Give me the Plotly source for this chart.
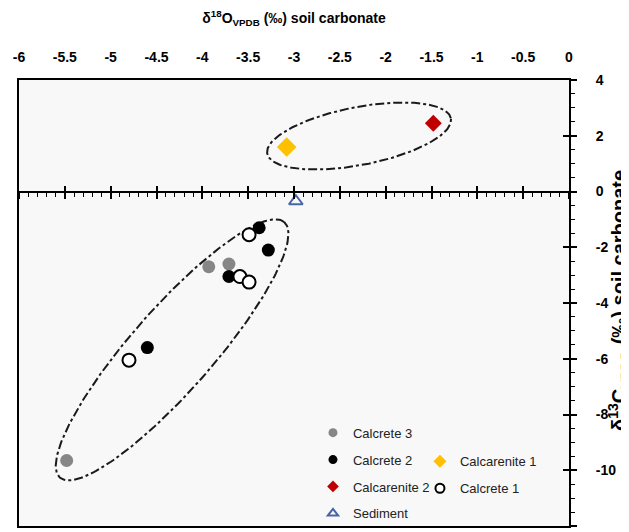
import numpy as np
import plotly.graph_objects as go

# ---------------- data ----------------
calcrete3_x = [-5.48, -3.93, -3.71]
calcrete3_y = [-9.65, -2.70, -2.60]

calcrete2_x = [-3.38, -3.28, -3.71, -4.60]
calcrete2_y = [-1.30, -2.10, -3.05, -5.60]

calcrete1_x = [-3.49, -3.59, -3.49, -4.80]
calcrete1_y = [-1.55, -3.05, -3.25, -6.05]

calcarenite1_x = [-3.08]
calcarenite1_y = [1.60]

calcarenite2_x = [-1.48]
calcarenite2_y = [2.45]

sediment_x = [-2.98]
sediment_y = [-0.35]

x_ticks = [-6, -5.5, -5, -4.5, -4, -3.5, -3, -2.5, -2, -1.5, -1, -0.5, 0]
y_ticks = [4, 2, 0, -2, -4, -6, -8, -10, -12]

# ellipse groupings: centre (data), semi-axes (screen px), tilt (deg)
ell_upper = dict(cx=-2.29, cy=1.99, a=93.5, b=29, ang=10.9)
ell_lower = dict(cx=-4.33, cy=-5.68, a=170, b=41, ang=48.7)

# ---------------- layout constants ----------------
# page body has an 8px default margin, so the figure is 621x524
W, H = 621, 524
ML, MR, MT, MB = 11, 60, 72, 6
PW, PH = W - ML - MR, H - MT - MB
XR, YR = [-6, 0], [-12, 4]
SX = PW / (XR[1] - XR[0])
SY = PH / (YR[1] - YR[0])


def ellipse(p, n=240):
    t = np.linspace(0, 2 * np.pi, n)
    th = np.radians(p["ang"])
    u = p["a"] * np.cos(t)
    v = p["b"] * np.sin(t)
    dx = u * np.cos(th) - v * np.sin(th)
    dy = u * np.sin(th) + v * np.cos(th)
    return p["cx"] + dx / SX, p["cy"] + dy / SY


fig = go.Figure()

for p in (ell_upper, ell_lower):
    ex, ey = ellipse(p)
    fig.add_trace(go.Scatter(x=ex, y=ey, mode="lines", showlegend=False, hoverinfo="skip",
                             line=dict(color="#1a1a1a", width=2, dash="dashdot")))

GREY, BLACK, YEL, RED, BLUE = "#868686", "#000000", "#FFC000", "#C00000", "#4A64A8"

fig.add_trace(go.Scatter(x=calcrete3_x, y=calcrete3_y, mode="markers", name="Calcrete 3", showlegend=False,
                         marker=dict(color=GREY, size=13, line=dict(width=0))))
fig.add_trace(go.Scatter(x=calcrete2_x, y=calcrete2_y, mode="markers", name="Calcrete 2", showlegend=False,
                         marker=dict(color=BLACK, size=13, line=dict(width=0))))
fig.add_trace(go.Scatter(x=calcrete1_x, y=calcrete1_y, mode="markers", name="Calcrete 1", showlegend=False,
                         marker=dict(color="white", size=13, line=dict(color=BLACK, width=2))))
fig.add_trace(go.Scatter(x=calcarenite1_x, y=calcarenite1_y, mode="markers", name="Calcarenite 1", showlegend=False,
                         marker=dict(color=YEL, size=15, symbol="diamond", line=dict(width=0))))
fig.add_trace(go.Scatter(x=calcarenite2_x, y=calcarenite2_y, mode="markers", name="Calcarenite 2", showlegend=False,
                         marker=dict(color=RED, size=13, symbol="diamond", line=dict(width=0))))
fig.add_trace(go.Scatter(x=sediment_x, y=sediment_y, mode="markers", name="Sediment", showlegend=False,
                         marker=dict(color="rgba(0,0,0,0)", size=12, symbol="triangle-up",
                                     line=dict(color=BLUE, width=2))))

# legend-only entries (smaller legend symbols)
leg1 = [("Calcrete 3", dict(color=GREY, size=9, symbol="circle")),
        ("Calcrete 2", dict(color=BLACK, size=9, symbol="circle")),
        ("Calcarenite 2", dict(color=RED, size=9, symbol="diamond")),
        ("Sediment", dict(color="rgba(0,0,0,0)", size=9, symbol="triangle-up", line=dict(color=BLUE, width=2)))]
leg2 = [("Calcarenite 1", dict(color=YEL, size=10, symbol="diamond")),
        ("Calcrete 1", dict(color="white", size=9, symbol="circle", line=dict(color=BLACK, width=2)))]
for i, (nm, mk) in enumerate(leg1):
    fig.add_trace(go.Scatter(x=[None], y=[None], mode="markers", name=nm, marker=mk,
                             legend="legend", legendgroup=f"a{i}"))
for i, (nm, mk) in enumerate(leg2):
    fig.add_trace(go.Scatter(x=[None], y=[None], mode="markers", name=nm, marker=mk,
                             legend="legend2", legendgroup=f"b{i}"))

FONT = "Liberation Sans, Arial, sans-serif"
tickfont = dict(family=FONT, size=14, color="black", weight="bold")
legfont = dict(family=FONT, size=13, color="#222222")

fig.update_layout(
    width=W, height=H,
    margin=dict(l=ML, r=MR, t=MT, b=MB, autoexpand=False),
    paper_bgcolor="white",
    plot_bgcolor="#f8f8f8",
    font=dict(family=FONT),
    title=dict(text="<b>δ<sup>18</sup>O<sub>VPDB</sub> (‰) soil carbonate</b>",
               font=dict(family=FONT, size=14, color="black"),
               x=0.5, xref="paper", xanchor="center",
               y=1 - 10 / H, yref="container", yanchor="middle"),
    xaxis=dict(range=XR, side="top", tickvals=x_ticks, ticktext=[f"{v:g}" for v in x_ticks],
               ticks="", ticklabelstandoff=10, tickfont=tickfont, automargin=False,
               showline=True, linecolor="black", linewidth=2, mirror=True,
               showgrid=False, zeroline=False, fixedrange=True),
    xaxis2=dict(range=XR, overlaying="x", anchor="free", position=0.75, side="bottom",
                dtick=0.5, tick0=0, ticks="outside", ticklen=6, tickwidth=2, tickcolor="black",
                minor=dict(dtick=0.1, tick0=0, ticks="outside", ticklen=4, tickwidth=1, tickcolor="black"),
                showticklabels=False, showline=True, linecolor="black", linewidth=2,
                showgrid=False, zeroline=False, automargin=False),
    xaxis3=dict(range=XR, overlaying="x", anchor="free", position=0.75, side="bottom",
                dtick=0.5, tick0=0, ticks="inside", ticklen=6, tickwidth=2, tickcolor="black",
                showticklabels=False, showline=False, showgrid=False, zeroline=False, automargin=False),
    yaxis=dict(range=YR, side="right", tickvals=y_ticks, ticktext=[f"{v:g}" for v in y_ticks],
               ticks="outside", ticklen=6, tickwidth=2, tickcolor="black",
               minor=dict(dtick=0.5, tick0=0, ticks="outside", ticklen=4, tickwidth=1, tickcolor="black"),
               tickfont=tickfont, ticklabelposition="outside", ticklabelstandoff=16, automargin=False,
               showline=True, linecolor="black", linewidth=2, mirror=True,
               showgrid=False, zeroline=False),
    yaxis2=dict(range=YR, overlaying="y", side="right", anchor="x",
                tickvals=y_ticks, ticks="inside", ticklen=6, tickwidth=2, tickcolor="black",
                showticklabels=False, showline=False, showgrid=False, zeroline=False, automargin=False),
    legend=dict(x=0.5345, y=0.2428, xanchor="left", yanchor="top", orientation="v",
                bgcolor="rgba(0,0,0,0)", font=legfont, tracegroupgap=7, itemsizing="trace"),
    legend2=dict(x=0.729, y=0.1785, xanchor="left", yanchor="top", orientation="v",
                 bgcolor="rgba(0,0,0,0)", font=legfont, tracegroupgap=7, itemsizing="trace"),
    showlegend=True,
    annotations=[dict(text="<b>δ<sup>13</sup>C<sub>VPDB</sub> (‰) soil carbonate</b>",
                      font=dict(family=FONT, size=20, color="black"),
                      textangle=-90, showarrow=False,
                      xref="paper", yref="paper", x=(611 - ML) / PW, y=1 - (293 - MT) / PH,
                      xanchor="center", yanchor="middle")],
)

# invisible anchor traces so the overlay axes render
fig.add_trace(go.Scatter(x=[None], y=[None], xaxis="x2", yaxis="y", showlegend=False, hoverinfo="skip"))
fig.add_trace(go.Scatter(x=[None], y=[None], xaxis="x3", yaxis="y", showlegend=False, hoverinfo="skip"))
fig.add_trace(go.Scatter(x=[None], y=[None], xaxis="x", yaxis="y2", showlegend=False, hoverinfo="skip"))

fig.write_html("out.html")
